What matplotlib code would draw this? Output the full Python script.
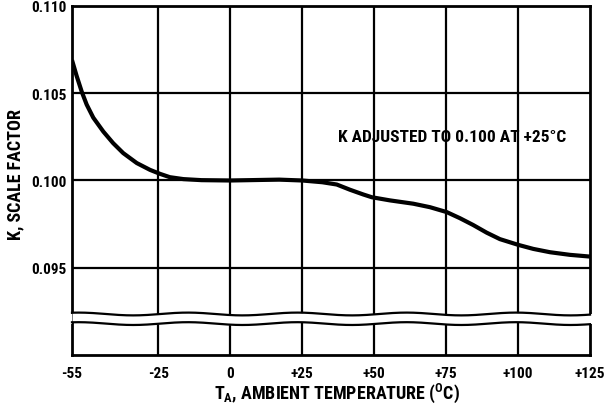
import numpy as np
import matplotlib
matplotlib.use("Agg")
import matplotlib.pyplot as plt

# K scale factor vs ambient temperature
temp_c = [-55, -53.4, -51.6, -49.9, -47.6, -44.1, -40.7, -37.2, -32.5, -27.9,
          -24.4, -21.0, -16.3, -10, 0, 10, 17, 25, 32, 37, 41.6, 46.2, 49.2,
          55.5, 63.6, 69.4, 75.2, 79.8, 84.4, 89.1, 93.7, 100.1, 105.3, 111.1,
          118.0, 125]
k_factor = [0.10690, 0.10600, 0.10508, 0.10435, 0.10360, 0.10280, 0.10214,
            0.10157, 0.10100, 0.10061, 0.10038, 0.10019, 0.10008, 0.10002,
            0.10000, 0.10003, 0.10005, 0.10000, 0.09990, 0.09977, 0.09947,
            0.09920, 0.09904, 0.09886, 0.09867, 0.09847, 0.09819, 0.09784,
            0.09745, 0.09701, 0.09664, 0.09631, 0.09608, 0.09589, 0.09574,
            0.09564]

x_ticks = [-55, -25, 0, 25, 50, 75, 100, 125]
x_tick_labels = ["-55", "-25", "0", "+25", "+50", "+75", "+100", "+125"]
y_ticks = [0.095, 0.100, 0.105, 0.110]
y_tick_labels = ["0.095", "0.100", "0.105", "0.110"]

FONT = ["Roboto Condensed", "DejaVu Sans"]
plt.rcParams["font.family"] = FONT
plt.rcParams["font.weight"] = "bold"
plt.rcParams["mathtext.fontset"] = "custom"
plt.rcParams["mathtext.rm"] = "Roboto Condensed:bold"
plt.rcParams["mathtext.bf"] = "Roboto Condensed:bold"

fig = plt.figure(figsize=(6.11, 4.10), dpi=100)
ax = fig.add_axes([72 / 611, 1 - 356 / 410, 518 / 611, 349 / 410])

ax.set_xlim(-55, 125)
ax.set_ylim(0.0900, 0.1100)

# grid
for xv in x_ticks[1:-1]:
    ax.axvline(xv, color="black", lw=1.6, zorder=1)
for yv in y_ticks[:-1]:
    ax.axhline(yv, color="black", lw=1.6, zorder=1)

for s in ax.spines.values():
    s.set_linewidth(2.0)

ax.set_xticks(x_ticks)
ax.set_xticklabels(x_tick_labels)
ax.set_yticks(y_ticks)
ax.set_yticklabels(y_tick_labels)
ax.tick_params(length=0, labelsize=11, pad=4)
ax.tick_params(axis="x", pad=8)
for lab in ax.get_xticklabels() + ax.get_yticklabels():
    lab.set_fontweight("bold")

# curve
ax.plot(temp_c, k_factor, color="black", lw=3.0, solid_joinstyle="round",
        solid_capstyle="butt", zorder=4)

# axis break: white band between two wavy lines
xb = np.linspace(-55, 125, 400)
wave = 0.00008 * np.sin((xb + 55) / 38.0 * 2 * np.pi + 1.2)
upper = 0.09235 + wave
lower = 0.09180 + wave
ax.fill_between(xb, lower, upper, color="white", zorder=3, clip_on=False,
                lw=0)
ax.fill_between([-56.5, -55], [0.09180, 0.09180], [0.09235, 0.09235],
                color="white", zorder=3, clip_on=False, lw=0)
ax.fill_between([125, 126.5], [0.09180, 0.09180], [0.09235, 0.09235],
                color="white", zorder=3, clip_on=False, lw=0)
ax.plot(xb, upper, color="black", lw=1.6, zorder=3.5, clip_on=False)
ax.plot(xb, lower, color="black", lw=1.6, zorder=3.5, clip_on=False)

ax.text(77, 0.10251, "K ADJUSTED TO 0.100 AT +25°C", ha="center",
        va="center", fontsize=12.5, fontweight="bold", zorder=5)

fig.text(337 / 611, 1 - 393 / 410,
         r"T$_{\mathbf{A}}$, AMBIENT TEMPERATURE ($^{\mathbf{O}}$C)",
         ha="center", va="center", fontsize=13, fontweight="bold")
fig.text(15 / 611, 1 - 175 / 410, "K, SCALE FACTOR", rotation=90,
         ha="center", va="center", fontsize=13, fontweight="bold")

fig.savefig("out.png", dpi=100, facecolor="white")
